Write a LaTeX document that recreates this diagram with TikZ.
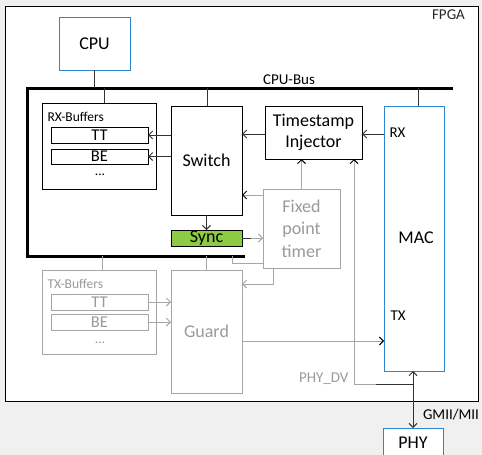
\documentclass[tikz,border=0pt]{standalone}
\usepackage{fontspec}
\setmainfont{Carlito}
\usetikzlibrary{arrows.meta,calc}
\definecolor{bg}{HTML}{F0F0F0}
\definecolor{bl}{HTML}{2E86D0}
\definecolor{gr}{HTML}{A6A6A6}
\definecolor{grt}{HTML}{9A9A9A}
\definecolor{syn}{HTML}{8DCB45}
\begin{document}
\begin{tikzpicture}[x=1pt,y=-1pt,
  box/.style={draw=black,fill=white,line width=1pt,inner sep=0pt,outer sep=0pt,
    font=\fontsize{18}{22}\selectfont,align=center},
  bbox/.style={box,draw=bl},
  gbox/.style={box,draw=gr,text=grt},
  sbox/.style={box,font=\fontsize{16.5}{18}\selectfont},
  gsbox/.style={sbox,draw=gr,text=grt},
  lbl/.style={inner sep=0pt,outer sep=0pt,font=\fontsize{15}{18}\selectfont},
  slbl/.style={lbl,font=\fontsize{13.5}{16}\selectfont},
  dots/.style={slbl,anchor=base,text height=2pt,text depth=0pt},
  ln/.style={line width=1pt,draw=black!80},
  gln/.style={line width=1pt,draw=gr},
  bus/.style={line width=3pt,draw=black,line cap=rect},
  arr/.style={ln,-{Straight Barb[length=4pt,width=8pt]}},
  garr/.style={gln,-{Straight Barb[length=4pt,width=8pt]}},
  gkarr/.style={gln,-{Straight Barb[length=4pt,width=8pt,color=black]}},
  dblarr/.style={ln,{Straight Barb[length=4pt,width=8pt]}-{Straight Barb[length=4pt,width=8pt]}}
]
\useasboundingbox (0,0) rectangle (482,455);
\fill[bg] (0,0) rectangle (482,455);

% FPGA frame
\node[draw=black,line width=1pt,fill=white,inner sep=0pt,outer sep=0pt,
  minimum width=473pt,minimum height=395pt] (fpga) at (241.5,203.5) {};
\node[lbl,text=black!85] (fpgal) at (448.5,15) {FPGA};

% nodes
\node[bbox,minimum width=71pt,minimum height=53pt] (cpu) at (94.5,43.5) {CPU};

\node[box,minimum width=114pt,minimum height=86pt] (rxb) at (99,146) {};
\node[slbl,anchor=west] (rxbl) at (47.5,117) {RX-Buffers};
\node[sbox,minimum width=97pt,minimum height=16pt] (rxtt) at (99.5,135) {TT};
\node[sbox,minimum width=97pt,minimum height=15pt] (rxbe) at (99.5,156.5) {BE};
\node[dots] (rxdots) at (100,175) {...};

\node[box,minimum width=71pt,minimum height=109pt] (sw) at (206.5,160.5) {Switch};
\node[box,fill=syn,minimum width=71pt,minimum height=16pt] (sync) at (206.5,238) {Sync};

\node[box,minimum width=97pt,minimum height=53pt,font=\fontsize{18}{21.5}\selectfont] (ti) at (313.5,132.5) {Timestamp\\Injector};
\node[bbox,minimum width=60pt,minimum height=265pt] (mac) at (414,238.5) {};
\node[lbl,font=\fontsize{18}{22}\selectfont] (macl) at (416,238) {MAC};
\node[lbl,anchor=west] (rxl) at (389.5,133) {RX};
\node[lbl,anchor=west] (txl) at (390.5,316) {TX};

\node[gbox,minimum width=77pt,minimum height=79pt,font=\fontsize{18}{22.5}\selectfont] (timer) at (301.5,228.5) {Fixed\\point\\timer};

\node[box,draw=gr,minimum width=114pt,minimum height=84pt] (txb) at (99,312) {};
\node[slbl,anchor=west,text=grt] (txbl) at (47.5,284) {TX-Buffers};
\node[gsbox,minimum width=97pt,minimum height=16pt] (txtt) at (99.5,302) {TT};
\node[gsbox,minimum width=97pt,minimum height=16pt] (txbe) at (99.5,322) {BE};
\node[dots,text=grt] (txdots) at (100,343) {...};

\node[gbox,minimum width=71pt,minimum height=123pt] (guard) at (206.5,331.5) {Guard};

\node[bbox,minimum width=60pt,minimum height=30pt] (phy) at (413,443) {PHY};

% bus
\coordinate (busR) at (451,88);
\coordinate (busL) at (27,88);
\coordinate (busB) at (27,256);
\coordinate (busE) at (243,256);
\draw[bus] (busR) -- (busL) -- (busB) -- (busE);
\node[lbl] (busl) at (289,79.5) {CPU-Bus};

% bus taps
\draw[ln] (cpu.south) -- (cpu.south |- busL);
\coordinate (t1) at (104,88);
\draw[ln] (t1) -- (t1 |- rxb.north);
\coordinate (t2) at (207,88);
\draw[ln] (t2) -- (t2 |- sw.north);
\coordinate (t3) at (418,88);
\draw[ln] (t3) -- (t3 |- mac.north);
\coordinate (t4) at (102,256);
\draw[gln] (t4) -- (t4 |- txb.north);
\coordinate (t5) at (206.5,256);
\draw[gln] (t5) -- (guard.north);
\coordinate (t6) at (232,256);
\draw[gln] (t6) -- (232,263) -- (timer.west |- 0,263);

% RX path
\draw[arr] (sw.west |- rxtt.east) -- (rxtt.east);
\draw[arr] (sw.west |- rxbe.east) -- (rxbe.east);
\draw[arr] (ti.west |- 0,134) -- (sw.east |- 0,134);
\draw[arr] (mac.west |- 0,134) -- (ti.east |- 0,134);
\draw[arr] (sw.south) -- (sync.north);

% timer
\draw[gkarr] (timer.north) -- (timer.north |- ti.south);
\draw[gkarr] (timer.west |- 0,195) -- (sw.east |- 0,195);
\draw[ln] (sync.east) -- ++(9,0);
\draw[garr] ($(sync.east)+(9,0)$) -- (timer.west |- sync.east);
\coordinate (tb) at ($(timer.south west)+(10,0)$);
\draw[garr] (tb) -- ++(0,16) -- (guard.east |- 0,284);

% TX path
\draw[garr] (txtt.east) -- (guard.west |- txtt.east);
\draw[garr] (txbe.east) -- (guard.west |- txbe.east);
\draw[gkarr] (guard.east |- 0,341) -- (mac.west |- 0,341);

% PHY_DV
\coordinate (dv) at (413,384);
\coordinate (dvc) at (354,384);
\draw[gkarr] (dv) -- (dvc) -- (dvc |- ti.south);
\draw[ln] (dv) -- (376,384);
\node[lbl,anchor=east,text=grt] (dvl) at (348.5,379) {PHY\_DV};

% GMII
\draw[dblarr] (phy.north |- mac.south) -- (phy.north);
\node[lbl,anchor=west] (gmii) at (423,415) {GMII/MII};
\end{tikzpicture}
\end{document}
